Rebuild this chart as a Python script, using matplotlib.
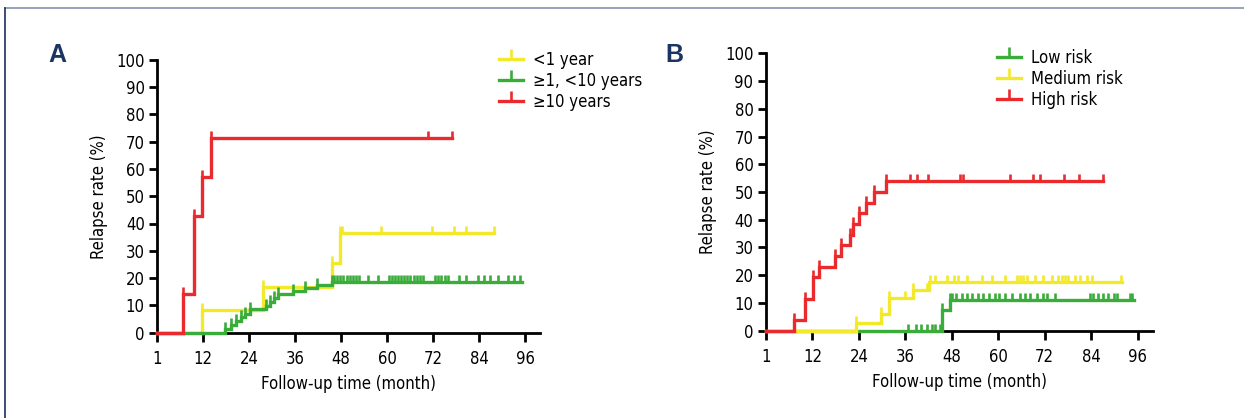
import numpy as np
import matplotlib
matplotlib.use("Agg")
import matplotlib.pyplot as plt
from matplotlib.lines import Line2D

plt.rcParams['font.family'] = ['DejaVu Sans']
plt.rcParams['font.stretch'] = 'condensed'

# ---------------- data ----------------
x_ticks = [0, 12, 24, 36, 48, 60, 72, 84, 96]
x_tick_labels = ['1', '12', '24', '36', '48', '60', '72', '84', '96']
y_ticks = [0, 10, 20, 30, 40, 50, 60, 70, 80, 90, 100]

# Panel A
a_labels = ['<1 year', '≥1, <10 years', '≥10 years']
a_lt1_times = [11.6, 27.7, 45.5, 47.7]
a_lt1_vals = [8.3, 16.7, 25.6, 36.4]
a_lt1_end = 87.9
a_lt1_cens = [11.6, 27.7, 45.5, 47.7, 48.3, 58.5, 71.6, 77.4, 80.7, 87.8]

a_mid_times = [17.7, 19.2, 20.5, 21.8, 23.0, 24.2, 28.5, 29.5, 30.5, 31.5, 35.5, 38.5, 41.6, 45.5]
a_mid_vals = [1.4, 2.8, 4.2, 5.6, 7.0, 8.6, 9.8, 11.2, 12.6, 14.0, 15.2, 16.4, 17.4, 18.4]
a_mid_end = 95.1
a_mid_cens = [17.7, 19.2, 20.5, 21.8, 23.0, 24.2, 28.5, 29.5, 30.5, 31.5, 35.5, 38.5, 41.6,
              45.5, 46.2, 47.0, 47.8, 48.6, 49.4, 50.2, 51.0, 51.8, 52.6, 55.0, 57.5,
              60.5, 61.3, 62.1, 62.9, 63.7, 64.5, 65.3, 66.1, 66.9, 67.7, 68.5, 69.3,
              72.5, 73.3, 74.1, 75.0, 76.0, 78.7, 80.7, 83.7, 85.3, 86.9, 89.0, 91.5,
              93.2, 94.6]

a_ge10_times = [6.8, 9.7, 11.8, 13.9]
a_ge10_vals = [14.3, 42.9, 57.1, 71.4]
a_ge10_end = 76.9
a_ge10_cens = [6.8, 9.7, 11.8, 13.9, 70.8, 76.9]

# Panel B
b_labels = ['Low risk', 'Medium risk', 'High risk']
b_low_times = [45.5, 47.6]
b_low_vals = [7.4, 11.1]
b_low_end = 95.0
b_low_cens = [36.8, 38.7, 40.0, 41.5, 42.9, 43.7, 45.0, 45.5, 47.6, 48.0, 49.1, 50.6, 51.9,
              53.3, 54.9, 56.2, 57.7, 59.2, 60.3, 61.8, 63.5, 65.6, 66.9, 68.2, 69.9,
              71.5, 72.5, 74.7, 83.7, 84.6, 85.9, 87.2, 88.5, 89.8, 90.6, 94.1, 94.7]

b_med_times = [23.2, 29.8, 31.9, 38.0, 42.2]
b_med_vals = [2.9, 5.9, 11.8, 14.7, 17.6]
b_med_end = 92.0
b_med_cens = [23.2, 29.8, 31.9, 35.9, 38.0, 41.5, 42.4, 43.7, 46.7, 48.6, 49.7, 51.9,
              55.7, 58.3, 61.8, 64.8, 65.6, 66.5, 67.4, 69.5, 71.7, 73.8, 75.5, 76.4,
              77.3, 78.1, 79.8, 81.1, 82.9, 84.2, 91.8]

b_high_times = [7.2, 10.0, 12.1, 13.8, 17.9, 19.5, 21.8, 22.6, 24.0, 25.9, 27.8, 31.1]
b_high_vals = [3.85, 11.5, 19.2, 23.1, 26.9, 30.8, 34.6, 38.5, 42.3, 46.2, 50.0, 53.8]
b_high_end = 87.2
b_high_cens = [7.2, 10.0, 12.1, 13.8, 17.9, 19.5, 21.8, 22.6, 24.0, 25.9, 27.8, 31.1,
               37.2, 39.0, 41.9, 50.0, 50.8, 63.0, 69.1, 70.9, 77.1, 81.0, 87.2]

# ---------------- styles ----------------
RED = '#ea2a2c'
YEL = '#f2e92a'
GRN = '#3aac3a'
NAVY = '#1b3563'
LW = 2.4
FS = 12


def draw_curve(ax, times, vals, end, cens, color, z):
    t = np.concatenate([[0.0], np.asarray(times, float), [end]])
    v = np.concatenate([[0.0], np.asarray(vals, float), [vals[-1]]])
    ax.step(t, v, where='post', color=color, lw=LW, zorder=z, clip_on=False,
            solid_joinstyle='miter')
    ct = np.asarray(cens, float)
    idx = np.searchsorted(t, ct, side='right') - 1
    ax.plot(ct, v[idx], linestyle='none', marker=2, ms=5, mew=1.9,
            color=color, zorder=z, clip_on=False)


def style_axes(ax):
    ax.set_xlim(0, 100)
    ax.set_ylim(0, 100)
    for s in ['top', 'right']:
        ax.spines[s].set_visible(False)
    for s in ['left', 'bottom']:
        ax.spines[s].set_linewidth(2.0)
        ax.spines[s].set_zorder(2)
    ax.set_xticks(x_ticks)
    ax.set_xticklabels(x_tick_labels)
    ax.set_yticks(y_ticks)
    ax.tick_params(axis='x', length=6.5, width=2.0, pad=6, labelsize=FS)
    ax.tick_params(axis='y', length=6, width=2.0, pad=3, labelsize=FS)
    ax.set_xlabel('Follow-up time (month)', fontsize=FS, labelpad=5)
    ax.set_ylabel('Relapse rate (%)', fontsize=FS, labelpad=6)
    ax.patch.set_alpha(0)


fig = plt.figure(figsize=(12.44, 4.18), dpi=100)
axA = fig.add_axes([157.3 / 1244, (418 - 332.7) / 418, 383 / 1244, 273 / 418])
axB = fig.add_axes([766 / 1244, (418 - 330.7) / 418, 387 / 1244, 277.4 / 418])

draw_curve(axA, a_lt1_times, a_lt1_vals, a_lt1_end, a_lt1_cens, YEL, 3)
draw_curve(axA, a_mid_times, a_mid_vals, a_mid_end, a_mid_cens, GRN, 4)
draw_curve(axA, a_ge10_times, a_ge10_vals, a_ge10_end, a_ge10_cens, RED, 5)
style_axes(axA)

draw_curve(axB, b_low_times, b_low_vals, b_low_end, b_low_cens, GRN, 3)
draw_curve(axB, b_med_times, b_med_vals, b_med_end, b_med_cens, YEL, 4)
draw_curve(axB, b_high_times, b_high_vals, b_high_end, b_high_cens, RED, 5)
style_axes(axB)


def proxy(color):
    return Line2D([], [], color=color, lw=LW, marker=2, ms=7, mew=1.9)


fig.legend([proxy(YEL), proxy(GRN), proxy(RED)], a_labels,
           loc='upper left', bbox_to_anchor=(499 / 1244, 1 - 51 / 418),
           frameon=False, fontsize=FS, handlelength=1.45, handletextpad=0.6,
           labelspacing=0.18, borderaxespad=0, borderpad=0)
fig.legend([proxy(GRN), proxy(YEL), proxy(RED)], b_labels,
           loc='upper left', bbox_to_anchor=(997 / 1244, 1 - 49 / 418),
           frameon=False, fontsize=FS, handlelength=1.45, handletextpad=0.6,
           labelspacing=0.18, borderaxespad=0, borderpad=0)

fig.text(57 / 1244, 1 - 55 / 418, 'A', fontsize=18, fontweight='bold', color=NAVY,
         ha='center', va='center', family=['Liberation Sans', 'DejaVu Sans'], stretch='normal')
fig.text(674 / 1244, 1 - 55 / 418, 'B', fontsize=18, fontweight='bold', color=NAVY,
         ha='center', va='center', family=['Liberation Sans', 'DejaVu Sans'], stretch='normal')

fig.add_artist(Line2D([5 / 1244, 1], [1 - 8 / 418, 1 - 8 / 418], transform=fig.transFigure,
                      color='#8d9cb3', lw=1.3))
fig.add_artist(Line2D([5 / 1244, 5 / 1244], [0, 1 - 8 / 418], transform=fig.transFigure,
                      color='#2b3f66', lw=1.3))

fig.savefig('out.png', dpi=100)
